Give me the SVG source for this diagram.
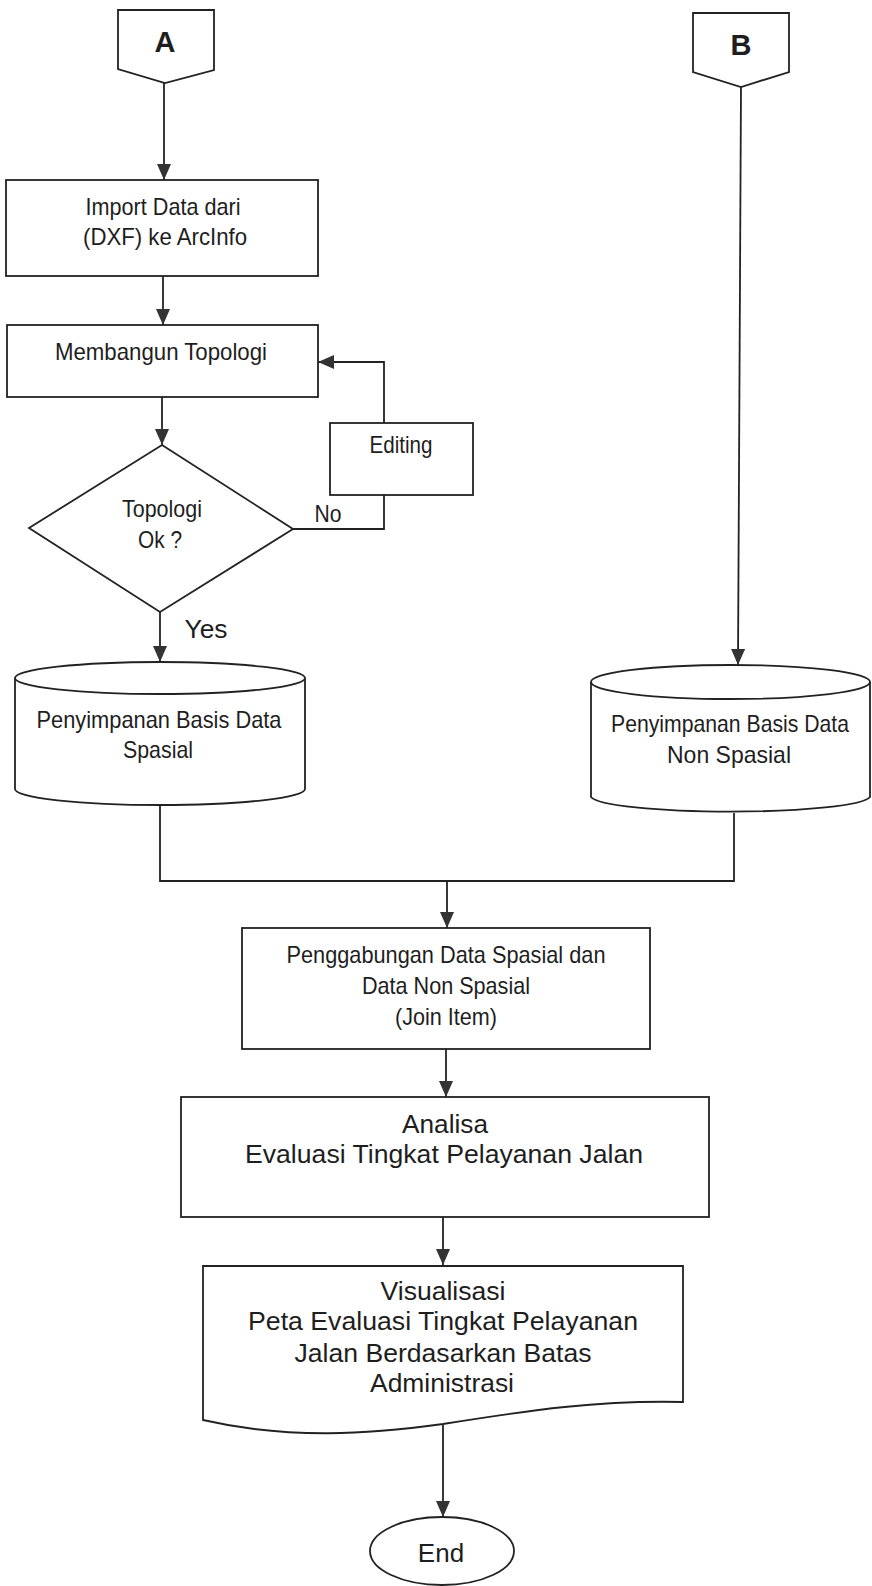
<svg xmlns="http://www.w3.org/2000/svg" width="872" height="1586" viewBox="0 0 872 1586">
<style>
.s{fill:#fff;stroke:#222;stroke-width:1.8}
.c{fill:none;stroke:#222;stroke-width:1.8}
.t{font-family:"Liberation Sans",Arial,sans-serif;font-size:24px;fill:#1e1e1e;text-anchor:middle}
.w{font-family:"Liberation Sans",Arial,sans-serif;font-size:26px;fill:#1e1e1e;text-anchor:middle}
.b{font-family:"Liberation Sans",Arial,sans-serif;font-size:29px;font-weight:bold;fill:#1e1e1e;text-anchor:middle}
</style>
<defs>
<marker id="ah" viewBox="0 0 16 14" refX="16" refY="7" markerWidth="16" markerHeight="14" markerUnits="userSpaceOnUse" orient="auto">
<path d="M0,0 L16,7 L0,14 z" fill="#333"/>
</marker>
</defs>
<rect width="872" height="1586" fill="#fff"/>

<g id="connectors">
<path class="c" d="M164,83 V180" marker-end="url(#ah)"/>
<path class="c" d="M163,276 V325" marker-end="url(#ah)"/>
<path class="c" d="M162,397 V445" marker-end="url(#ah)"/>
<path class="c" d="M293,529 H384 V495"/>
<path class="c" d="M384,423 V362 H318" marker-end="url(#ah)"/>
<path class="c" d="M160,612 V662" marker-end="url(#ah)"/>
<path class="c" d="M741,87 L738,665" marker-end="url(#ah)"/>
<path class="c" d="M160,805 V881 H734 V813"/>
<path class="c" d="M447,881 V928" marker-end="url(#ah)"/>
<path class="c" d="M446,1049 V1097" marker-end="url(#ah)"/>
<path class="c" d="M443,1217 V1265" marker-end="url(#ah)"/>
<path class="c" d="M443,1425 V1517" marker-end="url(#ah)"/>
<text class="t" x="328" y="522" textLength="27" lengthAdjust="spacingAndGlyphs">No</text>
<text class="w" x="206" y="638" font-size="25" textLength="43" lengthAdjust="spacingAndGlyphs">Yes</text>
</g>

<g id="nodeA">
<path class="s" d="M118,10 H214 V70 L165,83 L118,69 Z"/>
<text class="b" x="165" y="52">A</text>
</g>

<g id="nodeB">
<path class="s" d="M693,13 H789 V72 L741,87 L693,72 Z"/>
<text class="b" x="741" y="55">B</text>
</g>

<g id="import">
<rect class="s" x="6" y="180" width="312" height="96"/>
<text class="t" x="163" y="215" textLength="155" lengthAdjust="spacingAndGlyphs">Import Data dari</text>
<text class="t" x="165" y="245" textLength="164" lengthAdjust="spacingAndGlyphs">(DXF) ke ArcInfo</text>
</g>

<g id="topologi">
<rect class="s" x="7" y="325" width="311" height="72"/>
<text class="t" x="161" y="360" textLength="212" lengthAdjust="spacingAndGlyphs">Membangun Topologi</text>
</g>

<g id="editing">
<rect class="s" x="330" y="423" width="143" height="72"/>
<text class="t" x="401" y="453" textLength="63" lengthAdjust="spacingAndGlyphs">Editing</text>
</g>

<g id="decision">
<path class="s" d="M162,445 L293,529 L160,612 L29,528 Z"/>
<text class="t" x="162" y="517" textLength="80" lengthAdjust="spacingAndGlyphs">Topologi</text>
<text class="t" x="160" y="548" textLength="44" lengthAdjust="spacingAndGlyphs">Ok ?</text>
</g>

<g id="dbSpasial">
<path class="s" d="M15,678 V789 A145,16 0 0,0 305,789 V678"/>
<ellipse class="s" cx="160" cy="678" rx="145" ry="16"/>
<text class="t" x="159" y="728" textLength="245" lengthAdjust="spacingAndGlyphs">Penyimpanan Basis Data</text>
<text class="t" x="158" y="758" textLength="70" lengthAdjust="spacingAndGlyphs">Spasial</text>
</g>

<g id="dbNonSpasial">
<path class="s" d="M591,682 V797 A140,16 0 0,0 870,797 V682"/>
<ellipse class="s" cx="730.5" cy="682" rx="139.5" ry="17"/>
<text class="t" x="730" y="732" font-size="23" textLength="238" lengthAdjust="spacingAndGlyphs">Penyimpanan Basis Data</text>
<text class="t" x="729" y="763" textLength="124" lengthAdjust="spacingAndGlyphs">Non Spasial</text>
</g>

<g id="join">
<rect class="s" x="242" y="928" width="408" height="121"/>
<text class="t" x="446" y="963" textLength="319" lengthAdjust="spacingAndGlyphs">Penggabungan Data Spasial dan</text>
<text class="t" x="446" y="994" textLength="168" lengthAdjust="spacingAndGlyphs">Data Non Spasial</text>
<text class="t" x="446" y="1025" textLength="102" lengthAdjust="spacingAndGlyphs">(Join Item)</text>
</g>

<g id="analisa">
<rect class="s" x="181" y="1097" width="528" height="120"/>
<text class="w" x="445" y="1133" textLength="86" lengthAdjust="spacingAndGlyphs">Analisa</text>
<text class="w" x="444" y="1163" textLength="398" lengthAdjust="spacingAndGlyphs">Evaluasi Tingkat Pelayanan Jalan</text>
</g>

<g id="visualisasi">
<path class="s" d="M203,1266 H683 V1402 C600,1400 530,1410 443,1424 C370,1434 290,1440 203,1420 Z"/>
<text class="w" x="443" y="1300" textLength="125" lengthAdjust="spacingAndGlyphs">Visualisasi</text>
<text class="w" x="443" y="1330" textLength="390" lengthAdjust="spacingAndGlyphs">Peta Evaluasi Tingkat Pelayanan</text>
<text class="w" x="443" y="1362" textLength="297" lengthAdjust="spacingAndGlyphs">Jalan Berdasarkan Batas</text>
<text class="w" x="442" y="1392" textLength="144" lengthAdjust="spacingAndGlyphs">Administrasi</text>
</g>

<g id="end">
<ellipse class="s" cx="442" cy="1551" rx="72" ry="34"/>
<text class="w" x="441" y="1562">End</text>
</g>
</svg>
